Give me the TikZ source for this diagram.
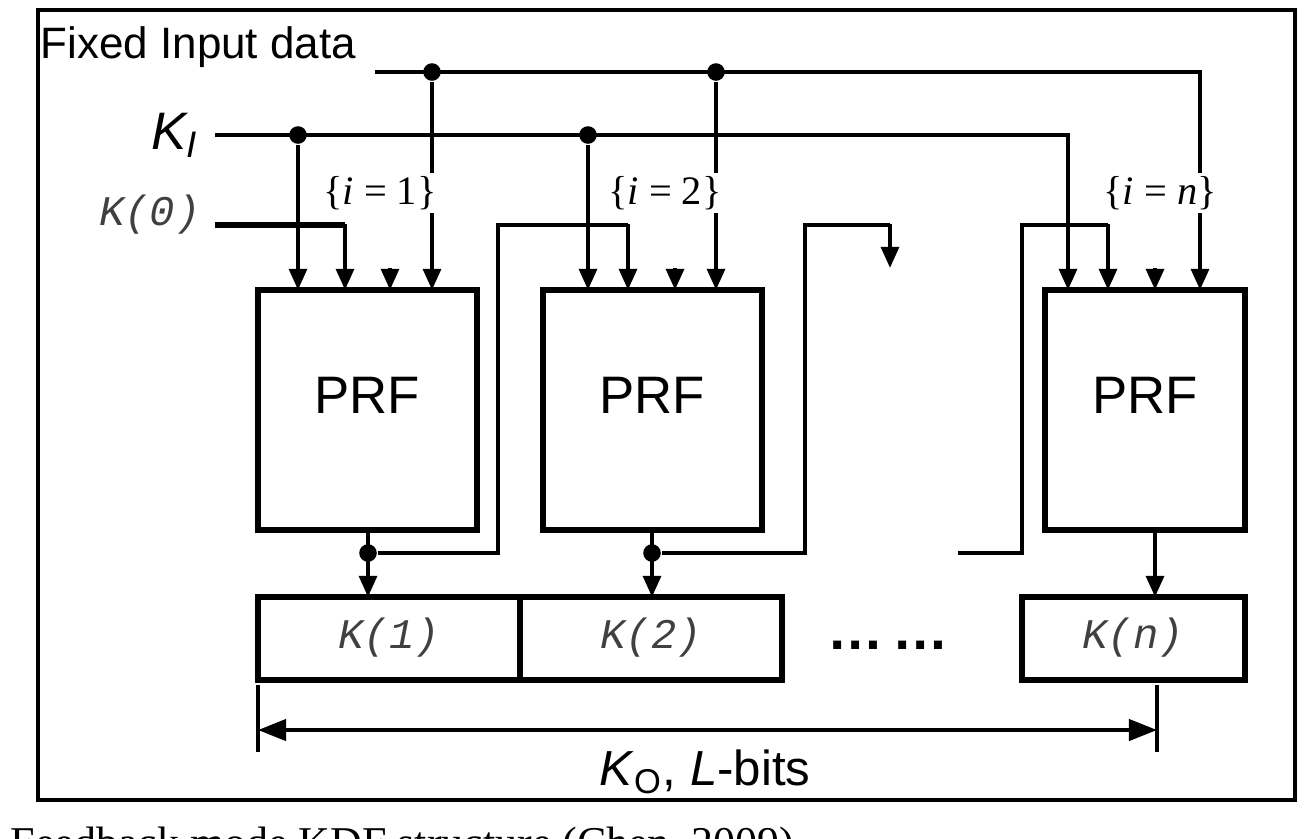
\documentclass[tikz,border=0pt]{standalone}
\usepackage{fontspec}
\setmainfont{Liberation Sans}
\newfontfamily\serifm{Liberation Serif}
\setmonofont{Liberation Mono}
\usetikzlibrary{arrows.meta}
\begin{document}
\begin{tikzpicture}[x=0.01cm,y=-0.01cm,
  ln/.style={line width=1.2pt},
  thk/.style={line width=1.8pt},
  ar/.style={ln,-{Triangle[length=6pt,width=5pt]}},
  dot/.style={circle,fill,inner sep=0pt,minimum size=5pt},
  kt/.style={font=\fontsize{12}{14}\selectfont\ttfamily\itshape},
  lab/.style={font=\fontsize{11.5}{13}\selectfont\serifm}]
\useasboundingbox (0,0) rectangle (1310,838);
\draw[line width=1.3pt] (38,10) rectangle (1295,800);
\node[anchor=north west,inner sep=0pt,font=\fontsize{12.5}{15}\selectfont\serifm] (cap) at (10,826) {Feedback mode KDF structure (Chen, 2009)};
\node[anchor=west,inner sep=0pt,font=\fontsize{12.5}{15}\selectfont] (fid) at (40,47) {Fixed Input data};
\node[font=\fontsize{15}{17}\selectfont\itshape] (ki) at (175,135) {K\textsubscript{I}};
\node[kt,text=black!75] (k0) at (150,215) {K(0)};
% PRF boxes
\draw[line width=1.5pt] (258,290) rectangle (477,530);
\draw[line width=1.5pt] (543,290) rectangle (762,530);
\draw[line width=1.5pt] (1045,290) rectangle (1245,530);
\node[font=\fontsize{15}{17}\selectfont] (prf1) at (367,395) {PRF};
\node[font=\fontsize{15}{17}\selectfont] (prf2) at (652,395) {PRF};
\node[font=\fontsize{15}{17}\selectfont] (prf3) at (1145,395) {PRF};
% fixed input
\coordinate (f0) at (375,72);
\node[dot] (fd1) at (432,72) {};
\node[dot] (fd2) at (716,72) {};
\draw[ar] (f0) -- (1200,72) -- (1200,290);
\draw[ar] (fd1) -- (432,290);
\draw[ar] (fd2) -- (716,290);
% KI
\coordinate (k0s) at (215,135);
\node[dot] (kd1) at (298,135) {};
\node[dot] (kd2) at (588,135) {};
\draw[ar] (k0s) -- (1068,135) -- (1068,290);
\draw[ar] (kd1) -- (298,290);
\draw[ar] (kd2) -- (588,290);
% K(0)
\draw[thk] (215,225) -- (345,225);
\draw[ar] (345,224) -- (345,290);
% small arrows
\draw[ar] (390,268) -- (390,290);
\draw[ar] (675,268) -- (675,290);
\draw[ar] (1155,268) -- (1155,290);
\node[lab,fill=white,inner sep=1pt] at (380,193) {\{\textit{i} = 1\}};
\node[lab,fill=white,inner sep=1pt] at (665,193) {\{\textit{i} = 2\}};
\node[lab,fill=white,inner sep=1pt] at (1160,193) {\{\textit{i} = \textit{n}\}};
% outputs
\draw[line width=1.5pt] (258,597) rectangle (520,680);
\draw[line width=1.5pt] (520,597) rectangle (782,680);
\draw[line width=1.5pt] (1022,597) rectangle (1245,680);
\node[kt,text=black!75] (o1) at (389,638) {K(1)};
\node[kt,text=black!75] (o2) at (651,638) {K(2)};
\node[kt,text=black!75] (o3) at (1133,638) {K(n)};
\node[font=\fontsize{16}{18}\selectfont\bfseries] at (888,645) {\dots\,\dots};
% feedback 1
\node[dot] (fb1) at (368,553) {};
\draw[ar] (368,530) -- (368,597);
\draw[ln] (fb1) -- (498,553) -- (498,225) -- (628,225);
\draw[ar] (628,224) -- (628,290);
% feedback 2
\node[dot] (fb2) at (652,553) {};
\draw[ar] (652,530) -- (652,597);
\draw[ln] (fb2) -- (805,553) -- (805,225) -- (890,225);
\draw[ar] (890,224) -- (890,268);
% feedback 3
\draw[ln] (958,553) -- (1022,553) -- (1022,225) -- (1108,225);
\draw[ar] (1108,224) -- (1108,290);
\draw[ar] (1155,530) -- (1155,597);
% dimension
\draw[ln] (258,685) -- (258,752);
\draw[ln] (1157,685) -- (1157,752);
\draw[ln,{Triangle[length=8pt,width=6pt]}-{Triangle[length=8pt,width=6pt]}] (258,730) -- (1157,730);
\node[font=\fontsize{14}{16}\selectfont] at (705,772) {\textit{K}\textsubscript{O}, \textit{L}-bits};
\end{tikzpicture}
\end{document}
